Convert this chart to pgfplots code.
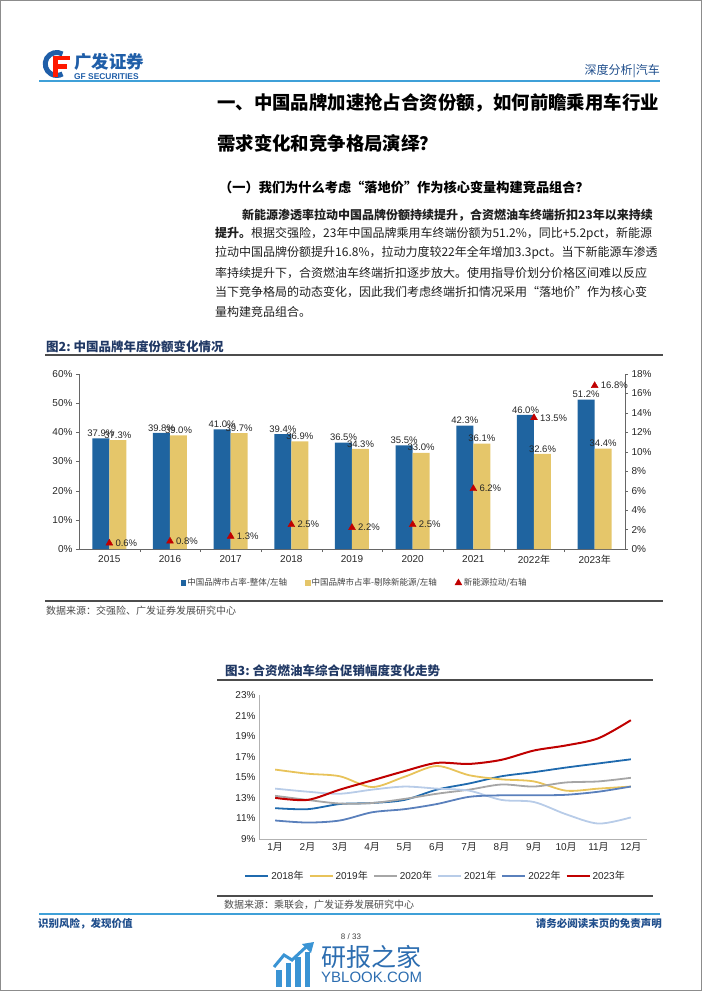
\documentclass[border=0pt]{standalone}
\usepackage{pgfplots}
\pgfplotsset{compat=1.18}
\usepackage{fontspec}
\setmainfont{Liberation Sans}
\newfontfamily\cjk{Noto Sans CJK SC}
\XeTeXlinebreaklocale "zh"
\XeTeXlinebreakskip=0pt plus 3pt
\definecolor{barblue}{HTML}{1F64A0}
\definecolor{baryel}{HTML}{E5C66A}
\definecolor{tri}{HTML}{C00000}
\definecolor{hdrblue}{HTML}{3FA0D8}
\definecolor{gfblue}{HTML}{1F5EA8}
\definecolor{navy}{HTML}{203864}
\definecolor{ftblue}{HTML}{1F4E8C}
\definecolor{wm}{HTML}{3A94D4}
\definecolor{wmtext}{HTML}{2C6DB0}
\definecolor{c18}{HTML}{1F6AAE}
\definecolor{c19}{HTML}{E8C35A}
\definecolor{c20}{HTML}{A6A6A6}
\definecolor{c21}{HTML}{B8CCE8}
\definecolor{c22}{HTML}{5A80BC}
\definecolor{c23}{HTML}{C00000}
\newcommand{\fs}[1]{\fontsize{#1}{#1}\selectfont}

\begin{document}
\begin{tikzpicture}[x=1pt,y=1pt]
\useasboundingbox (0,0) rectangle (702,-991);
\draw[black!45, line width=1pt] (0.5,-0.5) rectangle (701.5,-990.5);

% ---------- header ----------
\draw[gfblue, line width=5pt] (62.5,-54) arc (60:300:11.5);
\fill[red!80!orange] (52.5,-55.5) rectangle (69.5,-60);
\fill[red!80!orange] (52.5,-55.5) rectangle (57.5,-77);
\fill[red!80!orange] (52.5,-64) rectangle (66.5,-68.5);
\node[anchor=west, inner sep=0, font=\cjk\bfseries\fs{17.5}, text=gfblue] at (74,-62) {广发证券};
\node[anchor=west, inner sep=0, font=\bfseries\fs{8.4}, text=gfblue] at (74,-76.5) {GF SECURITIES};
\node[anchor=east, inner sep=0, font=\cjk\fs{12}, text=ftblue] at (660,-71) {深度分析|汽车};
\draw[hdrblue, line width=1.2pt] (39,-81) -- (660,-81);

% ---------- headings ----------
\node[anchor=west, inner sep=0, font=\cjk\bfseries\fs{18.4}] at (217,-103) {\makebox[445pt][s]{一、中国品牌加速抢占合资份额，如何前瞻乘用车行业}};
\node[anchor=west, inner sep=0, font=\cjk\bfseries\fs{18.4}] at (217,-143) {需求变化和竞争格局演绎？};
\node[anchor=west, inner sep=0, font=\cjk\bfseries\fs{13.2}] at (219,-187) {\makebox[390pt][s]{（一）我们为什么考虑“落地价”作为核心变量构建竞品组合？}};

% ---------- body ----------
\begin{scope}[every node/.style={anchor=west, inner sep=0, font=\cjk\fs{12}, text=black!88}]
\node at (242,-215) {\makebox[420pt][s]{\bfseries 新能源渗透率拉动中国品牌份额持续提升，合资燃油车终端折扣23年以来持续}};
\node at (215,-234) {\makebox[447pt][s]{\textbf{提升。}根据交强险，23年中国品牌乘用车终端份额为51.2\%，同比+5.2pct，新能源}};
\node at (215,-253) {\makebox[447pt][s]{拉动中国品牌份额提升16.8\%，拉动力度较22年全年增加3.3pct。当下新能源车渗透}};
\node at (215,-273) {\makebox[447pt][s]{率持续提升下，合资燃油车终端折扣逐步放大。使用指导价划分价格区间难以反应}};
\node at (215,-292) {\makebox[447pt][s]{当下竞争格局的动态变化，因此我们考虑终端折扣情况采用“落地价”作为核心变}};
\node at (215,-312) {量构建竞品组合。};
\end{scope}

% ---------- figure 2 ----------
\node[anchor=west, inner sep=0, font=\cjk\bfseries\fs{12.5}, text=navy] at (46,-347) {图2:\ 中国品牌年度份额变化情况};
\draw[black!70, line width=1.2pt] (45,-355) -- (663,-355);
\draw[black!70, line width=1.2pt] (45,-601) -- (663,-601);
\node[anchor=west, inner sep=0, font=\cjk\fs{10}, text=black!70] at (46,-611) {数据来源：交强险、广发证券发展研究中心};

\begin{axis}[
  at={(79pt,-549pt)}, anchor=south west,
  width=546pt, height=175pt, scale only axis,
  xmin=-0.5, xmax=8.5, ymin=0, ymax=60,
  axis x line*=bottom, axis y line*=left,
  axis line style={black!60, line width=0.6pt},
  xtick={0,...,8},
  xticklabels={2015,2016,2017,2018,2019,2020,2021,{2022{\cjk 年}},{2023{\cjk 年}}},
  major x tick style={draw=none},
  minor xtick={0.5,1.5,...,7.5}, minor tick length=3pt,
  minor x tick style={black!60},
  ytick={0,10,...,60},
  yticklabel={\pgfmathprintnumber{\tick}\%},
  tick align=outside, major tick length=3pt,
  tick style={black!60},
  ticklabel style={font=\fs{10}, text=black!85},
  /pgf/number format/assume math mode=true,
  ybar=0pt, bar width=17pt,
  nodes near coords={\pgfmathprintnumber[fixed,fixed zerofill,precision=1]{\pgfplotspointmeta}\%},
  nodes near coords style={font=\fs{9.5}, text=black!85, inner sep=1.5pt},
  clip=false,
]
\addplot[fill=barblue, draw=none] coordinates {(0,37.9)(1,39.8)(2,41.0)(3,39.4)(4,36.5)(5,35.5)(6,42.3)(7,46.0)(8,51.2)};
\addplot[fill=baryel, draw=none] coordinates {(0,37.3)(1,39.0)(2,39.7)(3,36.9)(4,34.3)(5,33.0)(6,36.1)(7,32.6)(8,34.4)};
\end{axis}

\begin{axis}[
  at={(79pt,-549pt)}, anchor=south west,
  width=546pt, height=175pt, scale only axis,
  xmin=-0.5, xmax=8.5, ymin=0, ymax=18,
  axis x line=none, axis y line*=right,
  axis line style={black!60, line width=0.6pt},
  ytick={0,2,...,18},
  yticklabel={\pgfmathprintnumber{\tick}\%},
  tick align=outside, major tick length=3pt,
  tick style={black!60},
  ticklabel style={font=\fs{10}, text=black!85},
  /pgf/number format/assume math mode=true,
  legend style={at={(0.505,-0.194)}, anchor=center, draw=none, fill=none,
    font=\cjk\fs{8.5}, text=black!75, legend columns=3,
    /tikz/every even column/.append style={column sep=16pt}},
  clip=false,
]
\addlegendimage{only marks, mark=square*, mark size=2.3pt, barblue}
\addlegendentry{中国品牌市占率-整体/左轴}
\addlegendimage{only marks, mark=square*, mark size=2.3pt, baryel}
\addlegendentry{中国品牌市占率-剔除新能源/左轴}
\addplot[only marks, mark=triangle*, mark size=4pt, color=tri,
  nodes near coords={\pgfmathprintnumber[fixed,precision=1]{\pgfplotspointmeta}\%},
  nodes near coords style={anchor=west, xshift=5pt, font=\fs{9.5}, text=black!85, inner sep=1pt}]
  coordinates {(0,0.6)(1,0.8)(2,1.3)(3,2.5)(4,2.2)(5,2.5)(6,6.2)(7,13.5)(8,16.8)};
\addlegendentry{新能源拉动/右轴}
\end{axis}

% ---------- figure 3 ----------
\node[anchor=west, inner sep=0, font=\cjk\bfseries\fs{12.5}, text=navy] at (225,-671) {图3:\ 合资燃油车综合促销幅度变化走势};
\draw[black!70, line width=1.2pt] (217,-680) -- (653,-680);
\draw[black!70, line width=1.2pt] (217,-896) -- (653,-896);
\node[anchor=west, inner sep=0, font=\cjk\fs{10}, text=black!70] at (224,-905) {数据来源：乘联会，广发证券发展研究中心};

\begin{axis}[
  at={(259pt,-839pt)}, anchor=south west,
  width=388pt, height=144pt, scale only axis,
  xmin=0.5, xmax=12.5, ymin=9, ymax=23,
  axis x line*=bottom, axis y line*=left,
  axis line style={black!30, line width=0.6pt},
  xtick={1,...,12},
  xticklabels={1{\cjk 月},2{\cjk 月},3{\cjk 月},4{\cjk 月},5{\cjk 月},6{\cjk 月},7{\cjk 月},8{\cjk 月},9{\cjk 月},10{\cjk 月},11{\cjk 月},12{\cjk 月}},
  ytick={9,11,...,23},
  yticklabel={\pgfmathprintnumber{\tick}\%},
  major tick length=0pt,
  ticklabel style={font=\fs{10}, text=black!85},
  /pgf/number format/assume math mode=true,
  legend style={at={(0.455,-0.257)}, anchor=center, draw=none, fill=none,
    font=\fs{10}, text=black!85, legend columns=6,
    /tikz/every even column/.append style={column sep=3pt}},
  legend image code/.code={\draw[#1, line width=2pt, sharp plot] (0pt,0pt) -- (23pt,0pt);},
  every axis plot/.append style={smooth, tension=0.5, line width=1.8pt, no markers},
  clip=false,
]
\addplot[c18] coordinates {(1,12.0)(2,11.9)(3,12.4)(4,12.5)(5,12.8)(6,13.8)(7,14.4)(8,15.1)(9,15.5)(10,15.95)(11,16.35)(12,16.75)};
\addlegendentry{2018{\cjk 年}}
\addplot[c19] coordinates {(1,15.75)(2,15.35)(3,15.1)(4,14.05)(5,15.05)(6,16.1)(7,15.2)(8,14.8)(9,14.6)(10,13.7)(11,13.9)(12,14.1)};
\addlegendentry{2019{\cjk 年}}
\addplot[c20] coordinates {(1,13.2)(2,12.8)(3,12.45)(4,12.5)(5,12.9)(6,13.4)(7,13.8)(8,14.3)(9,14.1)(10,14.5)(11,14.6)(12,14.95)};
\addlegendentry{2020{\cjk 年}}
\addplot[c21] coordinates {(1,13.9)(2,13.6)(3,13.4)(4,13.8)(5,14.1)(6,13.9)(7,13.7)(8,12.8)(9,12.6)(10,11.4)(11,10.5)(12,11.1)};
\addlegendentry{2021{\cjk 年}}
\addplot[c22] coordinates {(1,10.8)(2,10.6)(3,10.8)(4,11.6)(5,11.9)(6,12.4)(7,13.1)(8,13.25)(9,13.25)(10,13.3)(11,13.6)(12,14.1)};
\addlegendentry{2022{\cjk 年}}
\addplot[c23, line width=2pt] coordinates {(1,13.0)(2,12.8)(3,13.8)(4,14.7)(5,15.6)(6,16.4)(7,16.3)(8,16.7)(9,17.6)(10,18.1)(11,18.8)(12,20.55)};
\addlegendentry{2023{\cjk 年}}
\end{axis}

% ---------- footer ----------
\draw[hdrblue, line width=1.2pt] (39,-914) -- (660,-914);
\node[anchor=west, inner sep=0, font=\cjk\bfseries\fs{10.5}, text=ftblue] at (38,-924) {识别风险，发现价值};
\node[anchor=east, inner sep=0, font=\cjk\bfseries\fs{10.5}, text=ftblue] at (662,-924) {请务必阅读末页的免责声明};
\node[inner sep=0, font=\fs{8}, text=black!75] at (351,-937) {8 / 33};

% ---------- watermark ----------
\fill[wm] (276,-987) rectangle (281.5,-970);
\fill[wm] (285.5,-987) rectangle (291,-963);
\fill[wm] (295,-987) rectangle (300.5,-957);
\fill[wm] (304.5,-987) rectangle (310,-952);
\draw[wm, line width=3pt] (274,-967) -- (284,-955) -- (292,-960) -- (306,-947);
\fill[wm] (314,-942) -- (302,-944) -- (311,-953) -- cycle;
\node[anchor=west, inner sep=0, font=\cjk\fs{25}, text=wmtext] at (321,-957) {研报之家};
\node[anchor=west, inner sep=0, font=\fs{15}, text=wmtext] at (321,-977) {YBLOOK.COM};
\end{tikzpicture}
\end{document}
